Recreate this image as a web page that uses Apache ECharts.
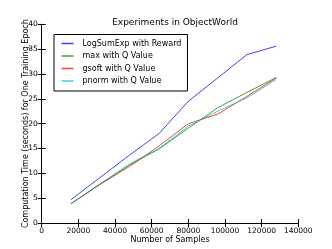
<!DOCTYPE html>
<html><head><meta charset="utf-8">
<script src="https://cdn.jsdelivr.net/npm/echarts@6/dist/echarts.min.js"></script>
<style>html,body{margin:0;padding:0;background:#fff}#c{width:332px;height:249px}</style>
</head><body><div id="c"></div>
<script>
var samples = [16000, 32000, 48000, 64000, 80000, 96000, 112000, 128000];
var logSumExp = [4.7, 9.2, 13.7, 18.0, 24.5, 29.2, 33.9, 35.6];
var maxQ = [3.9, 7.9, 11.7, 14.9, 19.1, 23.2, 26.3, 29.3];
var gsoftQ = [3.9, 7.8, 11.4, 15.5, 20.0, 21.9, 25.5, 29.2];
var pnormQ = [3.9, 7.9, 11.9, 15.0, 19.5, 22.5, 25.2, 28.9];
var names = ['LogSumExp with Reward', 'max with Q Value', 'gsoft with Q Value', 'pnorm with Q Value'];
var colors = ['rgba(0,0,255,0.75)', 'rgba(0,128,0,0.75)', 'rgba(255,0,0,0.75)', 'rgba(0,191,191,0.75)'];
var xTicks = [0, 20000, 40000, 60000, 80000, 100000, 120000, 140000];
var yTicks = [0, 5, 10, 15, 20, 25, 30, 35, 40];
var font = 'DejaVu Sans';
function pairs(v){ return samples.map(function(x,i){ return [x, v[i]]; }); }
var all = [logSumExp, maxQ, gsoftQ, pnormQ];
var chart = echarts.init(document.getElementById('c'), null, {renderer:'canvas'});
var axisBase = function(){ return {
  axisLine:{show:true, lineStyle:{color:'#000', width:1}},
  axisTick:{show:true, inside:true, length:4, lineStyle:{color:'#000'}},
  splitLine:{show:false}
};};
var xa = axisBase(), xb = axisBase(), ya = axisBase(), yb = axisBase();
Object.assign(xa, {type:'value', position:'bottom', min:xTicks[0], max:xTicks[xTicks.length-1], interval:20000,
  name:'Number of Samples', nameLocation:'middle', nameGap:13, nameMoveOverlap:false,
  nameTextStyle:{fontFamily:font, fontSize:8, color:'#000', verticalAlign:'top'},
  axisLabel:{fontFamily:font, fontSize:7.5, color:'#000', margin:4, formatter:function(v){ return String(v); }}});
Object.assign(xb, {type:'value', position:'top', min:xTicks[0], max:xTicks[xTicks.length-1], interval:20000, axisLabel:{show:false}});
Object.assign(ya, {type:'value', position:'left', min:yTicks[0], max:yTicks[yTicks.length-1], interval:5,
  name:'Computation Time (seconds) for One Training Epoch', nameLocation:'middle', nameGap:12, nameMoveOverlap:false,
  nameTextStyle:{fontFamily:font, fontSize:8, color:'#000'},
  axisLabel:{fontFamily:font, fontSize:7.5, color:'#000', margin:4}});
Object.assign(yb, {type:'value', position:'right', min:yTicks[0], max:yTicks[yTicks.length-1], interval:5, axisLabel:{show:false}});
chart.setOption({
  animation:false,
  backgroundColor:'#fff',
  title:{text:'Experiments in ObjectWorld', left:170, top:13, textAlign:'center',
    textStyle:{fontFamily:font, fontSize:9, fontWeight:'normal', color:'#000'}},
  grid:{left:41.7, right:33.7, top:24.3, bottom:25.5},
  legend:{orient:'vertical', left:54, top:34.5, itemWidth:12, itemHeight:1.5, itemGap:4.5, icon:'rect',
    padding:[5,6,6,7.5], borderColor:'#000', borderWidth:1, backgroundColor:'#fff',
    textStyle:{fontFamily:font, fontSize:8, color:'#000', padding:[0,0,0,4]}, data:names},
  xAxis:[xa, xb],
  yAxis:[ya, yb],
  series: all.map(function(v,i){ return {
    name:names[i], type:'line', data:pairs(v), showSymbol:false, symbol:'none',
    lineStyle:{color:colors[i], width:1}, itemStyle:{color:colors[i]}, z:2+i
  };})
});
</script></body></html>
